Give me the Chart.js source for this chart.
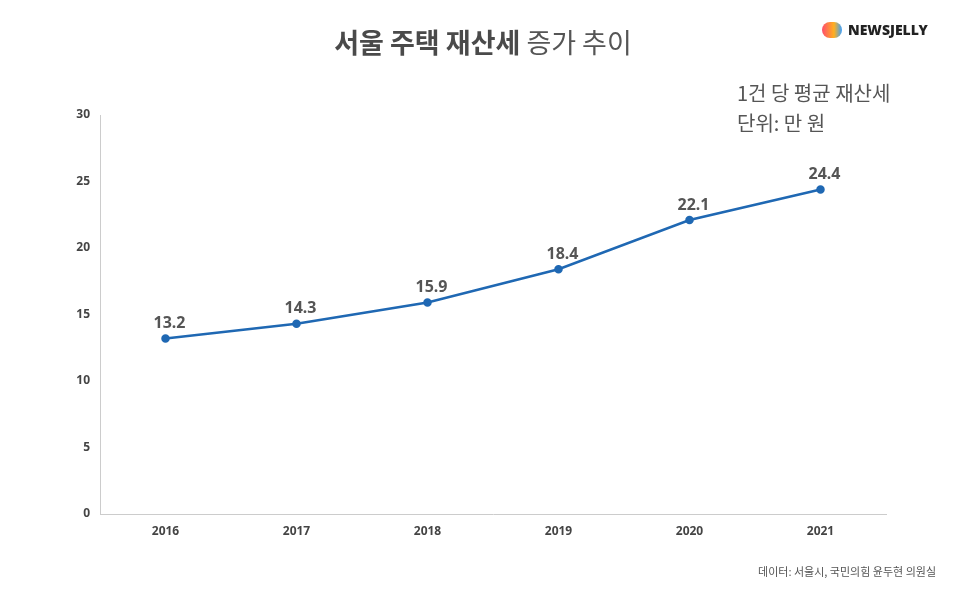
<!DOCTYPE html>
<html><head><meta charset="utf-8">
<script src="https://cdn.jsdelivr.net/npm/chart.js@4"></script>
<style>
body{margin:0;width:966px;height:598px;background:#fff;position:relative;font-family:"Noto Sans CJK KR","Noto Sans",sans-serif;overflow:hidden}
#c{position:absolute;left:0;top:0}
.t{position:absolute;white-space:nowrap}
</style></head><body>
<canvas id="c" width="966" height="598"></canvas>
<div class="t" style="left:0;width:966px;top:22px;text-align:center;font-size:27px;color:#555"><b style="color:#4a4a4a">서울 주택 재산세</b> <span style="font-weight:400">증가 추이</span></div>
<div class="t" style="left:737px;top:78px;font-size:20px;color:#555;line-height:30px">1건 당 평균 재산세<br>단위: 만 원</div>
<div class="t" style="left:822px;top:20px;font-size:14px;font-weight:900;color:#222;font-family:'Noto Sans',sans-serif"><span style="display:inline-block;width:20px;height:16px;border-radius:8px;background:linear-gradient(90deg,#ff4d6d,#ffb020 60%,#3aa0ff);vertical-align:-3px;margin-right:6px"></span>NEWSJELLY</div>
<div class="t" style="right:30px;top:563px;font-size:11px;color:#555">데이터: 서울시, 국민의힘 윤두현 의원실</div>
<script>
const categories=["2016","2017","2018","2019","2020","2021"];
const values=[13.2,14.3,15.9,18.4,22.1,24.4];
const yTicks=[0,5,10,15,20,25,30];
const labelPlugin={id:'lbl',afterDatasetsDraw(ch){const ctx=ch.ctx;const m=ch.getDatasetMeta(0);ctx.save();ctx.font='bold 16px "Noto Sans", sans-serif';ctx.fillStyle='#555';ctx.textAlign='center';ctx.textBaseline='bottom';m.data.forEach((p,i)=>ctx.fillText(values[i].toFixed(1),p.x+4,p.y-7));ctx.restore();}};
new Chart(document.getElementById('c'),{type:'line',
data:{labels:categories,datasets:[{data:values,borderColor:'#1f68b3',backgroundColor:'#1f68b3',borderWidth:2.5,pointRadius:3,tension:0}]},
options:{responsive:false,animation:false,layout:{padding:{left:0,right:80,top:115,bottom:0}},
plugins:{legend:{display:false},tooltip:{enabled:false}},
scales:{x:{offset:true,grid:{display:false,drawTicks:false},border:{color:'#ccc'},ticks:{color:'#444',font:{size:12,weight:'bold',family:'"Noto Sans", sans-serif'},padding:10},afterFit(s){s.height=84;}},
y:{min:0,max:30,afterBuildTicks(s){s.ticks=yTicks.map(v=>({value:v}));},grid:{display:false,drawTicks:false},border:{color:'#ccc'},ticks:{color:'#444',font:{size:12,weight:'bold',family:'"Noto Sans", sans-serif'},padding:10},afterFit(s){s.width=100;}}}},
plugins:[labelPlugin]});
</script></body></html>
